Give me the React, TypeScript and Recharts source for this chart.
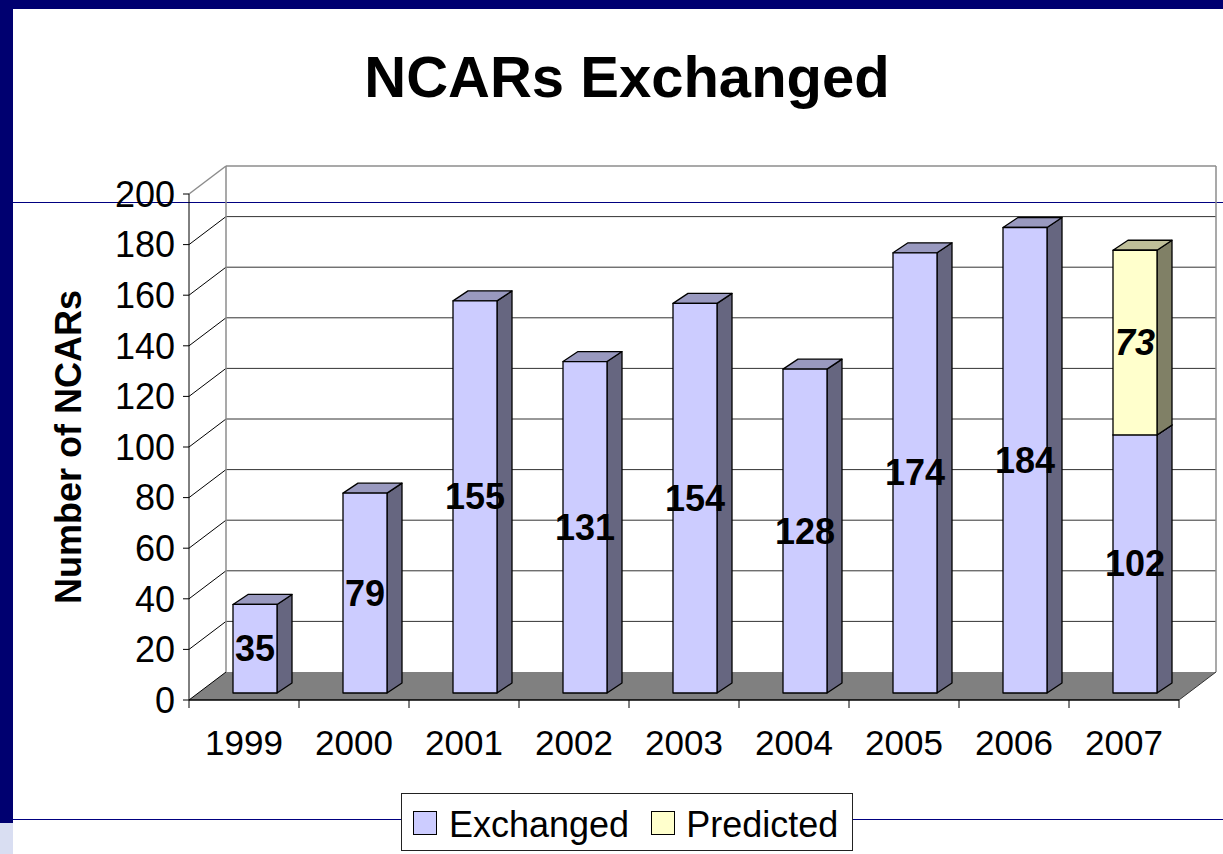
import React from "react";
import {
  Bar,
  BarChart,
  CartesianGrid,
  LabelList,
  ReferenceArea,
  XAxis,
  YAxis,
} from "recharts";

const years = ["1999", "2000", "2001", "2002", "2003", "2004", "2005", "2006", "2007"];
const exchanged = [35, 79, 155, 131, 154, 128, 174, 184, 102];
const predicted = [null, null, null, null, null, null, null, null, 73];
const yTicks = [0, 20, 40, 60, 80, 100, 120, 140, 160, 180, 200];

const data = years.map((year, i) => ({
  year,
  exchanged: exchanged[i],
  predicted: predicted[i],
}));

const series = [
  { key: "exchanged", name: "Exchanged" },
  { key: "predicted", name: "Predicted" },
];

const colors: Record<string, { front: string; top: string; side: string; italic: boolean }> = {
  exchanged: { front: "#CCCCFF", top: "#9999BF", side: "#666680", italic: false },
  predicted: { front: "#FFFFCC", top: "#BFBF99", side: "#808066", italic: true },
};

const FONT = "'Liberation Sans', Arial, Helvetica, sans-serif";
const W = 1223;
const H = 854;
const M = { top: 194, right: 44, bottom: 94, left: 0 };
const Y_AXIS_W = 189;
const X_AXIS_H = 60;
const PLOT_LEFT = M.left + Y_AXIS_W;
const PLOT_W = W - M.right - PLOT_LEFT;
const PLOT_TOP = M.top;
const PLOT_BOTTOM = H - M.bottom - X_AXIS_H;
const BAND = PLOT_W / years.length;

// 3D depth of walls and bars
const DX = 37;
const DY = 28;
const OX = 11;
const OY = 7;
const BDX = 15;
const BDY = 10;

const Walls = (props: any) => {
  const { x, y, width, height } = props;
  const L = x;
  const R = x + width;
  const T = y;
  const B = y + height;
  return (
    <g>
      <polygon
        points={`${L},${B} ${R},${B} ${R + DX},${B - DY} ${L + DX},${B - DY}`}
        fill="#808080"
      />
      <line x1={L} y1={B} x2={L + DX} y2={B - DY} stroke="#000" />
      <line x1={R} y1={B} x2={R + DX} y2={B - DY} stroke="#333" />
      <line x1={L + DX} y1={T - DY} x2={L + DX} y2={B - DY} stroke="#8c8c8c" strokeWidth={1.5} />
      <line x1={R + DX} y1={T - DY} x2={R + DX} y2={B - DY} stroke="#8c8c8c" strokeWidth={1.5} />
      <line x1={L + DX} y1={T - DY} x2={R + DX} y2={T - DY} stroke="#8c8c8c" strokeWidth={1.5} />
      <line x1={L} y1={T} x2={L + DX} y2={T - DY} stroke="#8c8c8c" strokeWidth={1.5} />
    </g>
  );
};

const gridLine = (props: any) => {
  const { x1, y1, x2 } = props;
  if (Math.abs(y1 - PLOT_TOP) < 1 || Math.abs(y1 - PLOT_BOTTOM) < 1) return <g key={props.key} />;
  return (
    <g key={props.key}>
      <line x1={x1 + DX} y1={y1 - DY} x2={x2 + DX} y2={y1 - DY} stroke="#333" />
      <line x1={x1} y1={y1} x2={x1 + DX} y2={y1 - DY} stroke="#000" />
    </g>
  );
};

const makeBox = (key: string) => (props: any) => {
  const { x, y, width, height } = props;
  if (!height || height <= 0) return <g />;
  const c = colors[key];
  const fx = x + OX;
  const fy = y - OY;
  const w = width;
  const h = height;
  return (
    <g stroke="#000" strokeWidth={1.3} strokeLinejoin="round">
      <polygon
        points={`${fx + w},${fy} ${fx + w + BDX},${fy - BDY} ${fx + w + BDX},${fy + h - BDY} ${fx + w},${fy + h}`}
        fill={c.side}
      />
      <polygon
        points={`${fx},${fy} ${fx + BDX},${fy - BDY} ${fx + w + BDX},${fy - BDY} ${fx + w},${fy}`}
        fill={c.top}
      />
      <rect x={fx} y={fy} width={w} height={h} fill={c.front} />
    </g>
  );
};

const makeLabel = (key: string) => (props: any) => {
  const vb = props.viewBox ?? props;
  const x = Number(vb.x ?? props.x);
  const y = Number(vb.y ?? props.y);
  const width = Number(vb.width ?? props.width);
  const height = Number(vb.height ?? props.height);
  const value = props.value;
  if (value == null || value === 0 || !height) return null;
  return (
    <text
      x={x + OX + width / 2}
      y={y - OY + height / 2}
      textAnchor="middle"
      dominantBaseline="central"
      fontFamily={FONT}
      fontSize={36}
      fontWeight="bold"
      fontStyle={colors[key].italic ? "italic" : "normal"}
      fill="#000"
    >
      {value}
    </text>
  );
};

const XTick = (props: any) => {
  const { x, payload, index } = props;
  const half = BAND / 2;
  return (
    <g>
      <text
        x={x}
        y={PLOT_BOTTOM + 55}
        textAnchor="middle"
        fontFamily={FONT}
        fontSize={35}
        fill="#000"
      >
        {payload.value}
      </text>
      <line x1={x + half} y1={PLOT_BOTTOM} x2={x + half} y2={PLOT_BOTTOM + 8} stroke="#000" />
      {index === 0 && (
        <line x1={x - half} y1={PLOT_BOTTOM} x2={x - half} y2={PLOT_BOTTOM + 8} stroke="#000" />
      )}
    </g>
  );
};

const YTitle = () => (
  <text
    x={68}
    y={PLOT_TOP + (PLOT_BOTTOM - PLOT_TOP) / 2}
    transform={`rotate(-90 68 ${PLOT_TOP + (PLOT_BOTTOM - PLOT_TOP) / 2})`}
    textAnchor="middle"
    dominantBaseline="central"
    fontFamily={FONT}
    fontSize={36}
    fontWeight="bold"
    fill="#000"
  >
    Number of NCARs
  </text>
);

export default function App() {
  return (
    <div
      style={{
        position: "absolute",
        left: 0,
        top: 0,
        width: W,
        height: H,
        background: "#fff",
        overflow: "hidden",
        fontFamily: FONT,
      }}
    >
      {/* slide decoration */}
      <div style={{ position: "absolute", left: 0, top: 0, width: W, height: 9, background: "#000070" }} />
      <div style={{ position: "absolute", left: 0, top: 0, width: 13, height: 823, background: "#000070" }} />
      <div style={{ position: "absolute", left: 0, top: 823, width: 13, height: 31, background: "#d9def2" }} />
      <div style={{ position: "absolute", left: 13, top: 202, width: W - 13, height: 1, background: "#000080" }} />
      <div style={{ position: "absolute", left: 13, top: 819, width: W - 13, height: 1, background: "#000080" }} />

      <div
        style={{
          position: "absolute",
          left: 327,
          top: 48,
          width: 600,
          textAlign: "center",
          fontSize: 58,
          lineHeight: "58px",
          fontWeight: "bold",
          color: "#000",
        }}
      >
        NCARs Exchanged
      </div>

      <div style={{ position: "absolute", left: 0, top: 0 }}>
        <BarChart width={W} height={H} data={data} margin={M}>
          <CartesianGrid vertical={false} horizontal={gridLine} />
          <ReferenceArea y1={0} y2={200} shape={<Walls />} fill="none" stroke="none" />
          <XAxis
            dataKey="year"
            height={X_AXIS_H}
            interval={0}
            axisLine={{ stroke: "#000", strokeWidth: 1.5 }}
            tickLine={false}
            tick={<XTick />}
          />
          <YAxis
            width={Y_AXIS_W}
            domain={[0, 200]}
            ticks={yTicks}
            interval={0}
            axisLine={{ stroke: "#000" }}
            tickLine={{ stroke: "#000" }}
            tickSize={6}
            tickMargin={8}
            tick={{ fill: "#000", fontSize: 36, fontFamily: FONT }}
            label={{ content: () => <YTitle /> }}
          />
          {series.map((s) => (
            <Bar
              key={s.key}
              dataKey={s.key}
              name={s.name}
              stackId="a"
              barSize={44}
              fill={colors[s.key].front}
              shape={makeBox(s.key)}
              isAnimationActive={false}
            >
              <LabelList dataKey={s.key} content={makeLabel(s.key)} />
            </Bar>
          ))}
        </BarChart>
      </div>

      <div
        style={{
          position: "absolute",
          left: 401,
          top: 793,
          width: 452,
          height: 58,
          border: "1px solid #222",
          background: "#fff",
          display: "flex",
          alignItems: "center",
          fontSize: 36,
          color: "#000",
          boxSizing: "border-box",
          paddingTop: 6,
        }}
      >
        {series.map((s, i) => (
          <div key={s.key} style={{ display: "flex", alignItems: "center", marginLeft: i === 0 ? 11 : 22 }}>
            <span
              style={{
                display: "inline-block",
                width: 22,
                height: 22,
                background: colors[s.key].front,
                border: "1px solid #000",
                marginRight: i === 0 ? 12 : 11,
                position: "relative",
                top: -2,
              }}
            />
            <span style={{ lineHeight: "40px" }}>{s.name}</span>
          </div>
        ))}
      </div>
    </div>
  );
}
